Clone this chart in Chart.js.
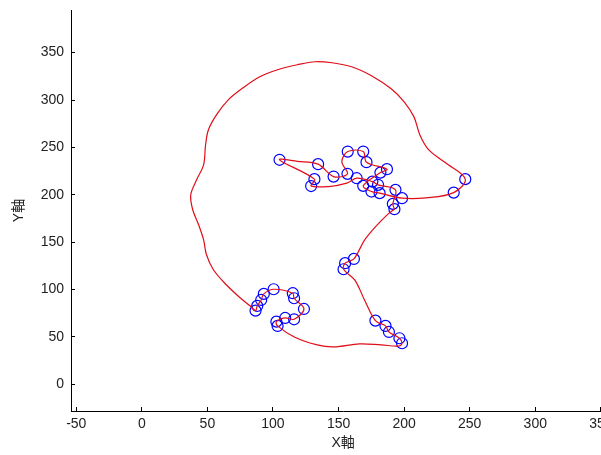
<!DOCTYPE html>
<html>
<head>
<meta charset="utf-8">
<script src="https://cdn.jsdelivr.net/npm/chart.js@4.4.1/dist/chart.umd.min.js"></script>
<style>
  html, body { margin: 0; padding: 0; background: #fff; width: 601px; height: 455px; overflow: hidden; }
  #wrap { width: 622px; height: 455px; }
</style>
</head>
<body>
<div id="wrap"><canvas id="c" width="622" height="455"></canvas></div>
<script>
// Red path (smoothed trajectory)
const pathX = [192.6,191.4,193.4,180.1,175.8,163.8,156.3,142.5,129.1,131.6,105.0,118.6,134.4,146.2,156.8,152.5,157.0,168.8,171.3,186.9,181.9,168.8,175.1,181.3,198.4,216.5,237.8,246.6,
  231.6,218.8,212.0,207.5,200.0,190.1,175.1,160.0,145.0,132.2,118.6,103.5,90.0,77.2,65.9,56.9,50.8,48.6,47.1,41.8,37.3,38.8,43.3,47.1,49.3,54.6,64.4,74.9,82.5,
  86.7,88.0,91.0,93.0,100.5,115.1,116.1,123.6,116.1,109.3,102.6,103.5,
  116.3,133.7,146.5,166.0,182.6,196.2,
  198.4,196.4,188.4,185.8,178.1,169.8,162.3,153.8,155.0,161.7,169.8,178.8,187.9,192.6];
const pathY = [184.8,190.4,205.2,210.5,213.9,217.5,212.3,208.7,209.4,216.5,236.9,235.3,232.3,219.2,222.1,234.8,245.6,245.6,234.4,227.0,223.4,209.4,203.4,201.7,196.4,196.7,202.3,216.5,
  233.7,247.4,263.2,282.2,298.1,311.8,325.6,335.1,339.3,340.4,337.2,331.9,324.5,312.9,300.2,284.4,268.6,252.7,231.6,215.8,200.0,184.2,168.4,152.5,136.7,120.9,105.0,91.3,82.8,
  77.7,82.7,89.0,95.4,100.3,96.1,90.8,79.5,68.6,70.0,66.1,61.6,
  49.9,41.5,39.4,42.6,41.5,40.4,
  43.3,48.6,55.2,61.6,67.2,89.0,110.1,121.4,127.8,132.3,152.1,167.2,179.8,184.8];
// Blue waypoints
const wpX = [105.0,134.4,131.6,129.1,146.2,156.8,157.0,168.8,171.3,186.9,181.9,163.8,168.8,175.8,180.1,175.1,181.3,193.4,198.4,191.4,192.6,246.6,237.8,
  155.0,161.7,153.8,
  178.1,185.8,188.4,196.4,198.4,
  100.5,93.0,91.0,88.0,86.7,115.1,116.1,123.6,116.1,109.3,102.6,103.5];
const wpY = [236.9,232.3,216.5,209.2,219.2,222.1,245.6,245.6,234.4,227.0,223.4,217.5,209.4,213.9,210.5,203.4,201.7,205.2,196.4,190.4,184.8,216.5,202.3,
  127.8,132.3,121.4,
  67.2,61.6,55.2,48.6,43.3,
  100.3,95.4,89.0,82.7,77.7,96.1,90.8,79.5,68.6,70.0,66.1,61.6];
const xTicks = [-50,0,50,100,150,200,250,300,350];
const yTicks = [0,50,100,150,200,250,300,350];

const pathData = pathX.map((x,i)=>({x, y: pathY[i]}));
const wpData = wpX.map((x,i)=>({x, y: wpY[i]}));
const FONT = "'Liberation Sans', Arial, 'Noto Sans CJK JP', sans-serif";

new Chart(document.getElementById('c'), {
  type: 'scatter',
  data: {
    datasets: [
      { data: wpData, showLine: false, pointStyle: 'circle', pointRadius: 5.5, pointBorderWidth: 1.2,
        pointBorderColor: '#0000ff', pointBackgroundColor: 'rgba(0,0,0,0)', order: 2 },
      { data: pathData, showLine: true, borderColor: '#e00d18', borderWidth: 1.2, pointRadius: 0,
        tension: 0.35, fill: false, order: 1 }
    ]
  },
  options: {
    responsive: false, animation: false,
    layout: { padding: { top: 10, right: 0, left: 0, bottom: 0 } },
    plugins: { legend: { display: false }, tooltip: { enabled: false } },
    scales: {
      x: {
        type: 'linear', min: -54, max: 361,
        afterBuildTicks: s => { s.ticks = xTicks.map(v => ({ value: v })); },
        afterFit: s => { s.height = 44; s.paddingLeft = 0; s.paddingRight = 0; },
        grid: { drawOnChartArea: false, drawTicks: true, tickLength: -4, color: '#000', lineWidth: 1 },
        border: { display: true, color: '#000', width: 1 },
        ticks: { color: '#222', font: { family: FONT, size: 14 }, padding: 9, maxRotation: 0, autoSkip: false },
        title: { display: true, text: 'X軸', color: '#222', font: { family: FONT, size: 14 }, padding: { top: 0, bottom: 3 } }
      },
      y: {
        type: 'linear', min: -28.2, max: 395,
        afterBuildTicks: s => { s.ticks = yTicks.map(v => ({ value: v })); },
        afterFit: s => { s.width = 71; s.paddingTop = 0; s.paddingBottom = 0; },
        grid: { drawOnChartArea: false, drawTicks: true, tickLength: -4, color: '#000', lineWidth: 1 },
        border: { display: true, color: '#000', width: 1 },
        ticks: { color: '#222', font: { family: FONT, size: 14 }, padding: 11, autoSkip: false },
        title: { display: true, text: 'Y軸', color: '#222', font: { family: FONT, size: 14 }, padding: { top: 11, bottom: 0 } }
      }
    }
  }
});
</script>
</body>
</html>
